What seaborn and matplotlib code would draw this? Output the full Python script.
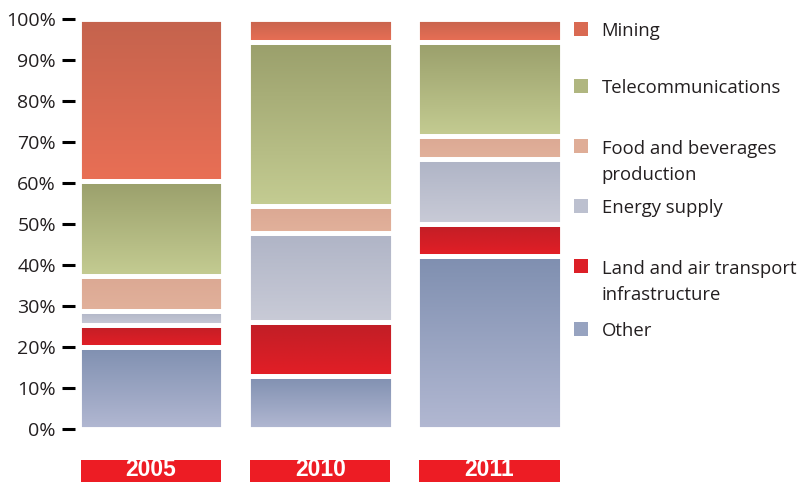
import numpy as np
import pandas as pd
import matplotlib
matplotlib.use("Agg")
import matplotlib.pyplot as plt
import seaborn as sns
from matplotlib.colors import LinearSegmentedColormap
from matplotlib.patches import Rectangle

# --- data (shares in %, stacked bottom -> top) ---
years = ["2005", "2010", "2011"]
sectors = ["Other", "Land and air transport\ninfrastructure", "Energy supply",
           "Food and beverages\nproduction", "Telecommunications", "Mining"]
other = [20.0, 13.0, 42.1]
land_air = [5.5, 13.1, 8.0]
energy = [3.2, 21.7, 15.7]
food_bev = [8.6, 6.5, 5.7]
telecom = [23.2, 40.0, 22.8]
mining = [39.5, 5.7, 5.7]

# gradient colours for each block: top edge, bottom edge
top_colors = ["#7f8fb0", "#c01f26", "#afb4c6", "#dba893", "#9a9f6b", "#c4634d"]
bottom_colors = ["#b2b8d2", "#e31e26", "#c9cbd7", "#e2b19b", "#c4cc92", "#e96f55"]
legend_colors = ["#97a3c0", "#dc1f27", "#bcc0cf", "#dfad97", "#b0b680", "#d96a52"]

ink = "#231f20"

values = [other, land_air, energy, food_bev, telecom, mining]
df = pd.DataFrame({
    "year": years * len(sectors),
    "sector": np.repeat(sectors, len(years)),
    "share": np.concatenate(values),
})
df["top"] = df.groupby("year")["share"].cumsum()
df["bottom"] = df["top"] - df["share"]

sns.set_theme(style="white")
plt.rcParams["font.family"] = ["Open Sans", "DejaVu Sans"]

fig = plt.figure(figsize=(8.02, 4.82), dpi=100)
ax = fig.add_axes([0.0935, 0.1093, 0.611, 0.8523])

grad = np.linspace(0, 1, 256)[:, None]
for k, sector in enumerate(sectors):
    sub = df[df["sector"] == sector]
    sns.barplot(data=sub, x="year", y="top", order=years, color=top_colors[k],
                width=0.855, saturation=1, errorbar=None, ax=ax)
    cmap = LinearSegmentedColormap.from_list(f"g{k}", [top_colors[k], bottom_colors[k]])
    for patch, (_, row) in zip(ax.containers[-1], sub.iterrows()):
        patch.set_y(row["bottom"])
        patch.set_height(row["share"])
        x0 = patch.get_x()
        im = ax.imshow(grad, cmap=cmap, aspect="auto", origin="upper",
                       extent=[x0, x0 + patch.get_width(), row["bottom"], row["top"]],
                       zorder=1, interpolation="bilinear")
        im.set_clip_path(patch)
        patch.set_facecolor("none")
        patch.set_edgecolor("white")
        patch.set_linewidth(3.5)
        patch.set_zorder(3)

ax.set_xlim(-0.449, 2.446)
ax.set_ylim(0, 100)
ax.set_yticks(range(0, 101, 10))
ax.set_yticklabels([f"{v}%" for v in range(0, 101, 10)])
ax.tick_params(axis="y", left=True, length=9.4, width=2.2, pad=4.3,
               labelsize=14, color="black", labelcolor=ink)
ax.tick_params(axis="x", length=0, labelbottom=False)
ax.set_xlabel("")
ax.set_ylabel("")
sns.despine(ax=ax, left=True, bottom=True)

# red year boxes under the bars
xax = ax.get_xaxis_transform()
for i, yr in enumerate(years):
    ax.add_patch(Rectangle((i - 0.414, -0.15), 0.828, 0.0753, transform=xax,
                           facecolor="#ed1c24", edgecolor="none", clip_on=False))
    ax.text(i, -0.1255, yr, transform=xax, ha="center", va="bottom",
            fontsize=16.5, fontweight="bold", color="white",
            family=["Liberation Sans", "DejaVu Sans"])

# legend, top -> bottom (baseline of the first line of each label, px from top)
W, H = 802, 482
legend_base = [36, 92.7, 153.3, 213.3, 273.3, 336]
line_gap = 26.7
for j, k in enumerate(range(len(sectors) - 1, -1, -1)):
    yb = legend_base[j]
    fig.add_artist(Rectangle((574 / W, 1 - (yb - 0.2) / H), 14 / W, 14 / H,
                             transform=fig.transFigure, facecolor=legend_colors[k],
                             edgecolor="none"))
    n_extra = sectors[k].count("\n")
    fig.text(601.7 / W, 1 - (yb + n_extra * line_gap) / H, sectors[k],
             ha="left", va="baseline", fontsize=13.3, color=ink, linespacing=1.6)

fig.savefig("out.png", dpi=100)
